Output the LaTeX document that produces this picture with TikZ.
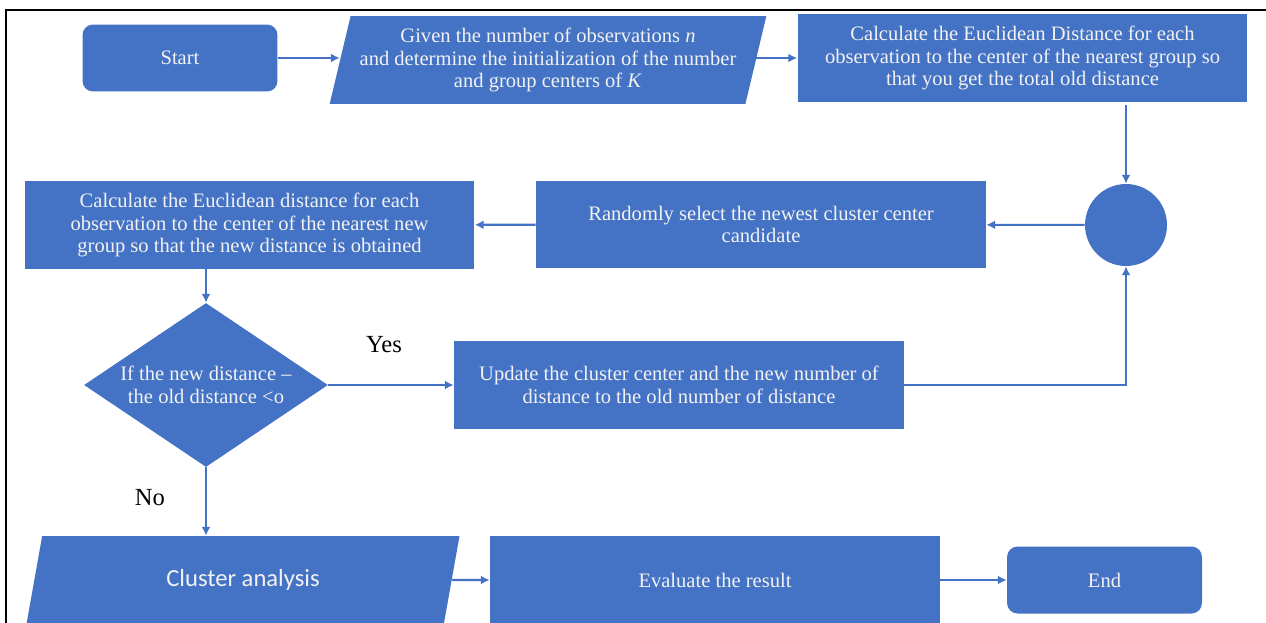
\documentclass[tikz,border=0pt]{standalone}
\usepackage{fontspec}
\setmainfont{Liberation Serif}
\newfontfamily\carlito{Carlito}
\usetikzlibrary{arrows.meta,shapes.geometric,positioning,calc}
\definecolor{flowblue}{HTML}{4472C4}
\definecolor{flowtext}{HTML}{F2F2F2}

\begin{document}
\begin{tikzpicture}[x=0.02cm,y=-0.02cm,
  every node/.style={fill=flowblue,text=flowtext,align=center,inner sep=1pt,
  font=\fontsize{11.7}{13}\selectfont},
  procbox/.style={rectangle,minimum width=9cm,minimum height=1.75cm},
  termbox/.style={rectangle,rounded corners=6pt,minimum width=3.9cm,minimum height=1.34cm},
  iobox/.style={trapezium,trapezium stretches=true,trapezium left angle=73.5,
  trapezium right angle=106.5,minimum width=8.76cm,minimum height=1.76cm},
  decision/.style={diamond,aspect=1.5,inner sep=0pt,minimum width=4.88cm,minimum height=3.28cm},
  joint/.style={circle,inner sep=0pt,minimum size=1.64cm},
  answer/.style={fill=none,text=black,font=\fontsize{14}{16}\selectfont},
  flow/.style={draw=flowblue,line width=1.2pt,-{Latex[length=5pt,width=5pt]}},
]
\useasboundingbox (0,0) rectangle (1266,622);

% the frame
\draw[line width=1.1pt] (6,640) -- (6,10) -- (1280,10);

% the first row
\node[termbox] (start) at (180,58) {Start};
\node[iobox] (given) at (548,60) {Given the number of observations \textit{n}\\
  and determine the initialization of the number\\and group centers of \textit{K}};
\node[procbox] (olddist) at (1022.5,58) {Calculate the Euclidean Distance for each\\
  observation to the center of the nearest group so\\that you get the total old distance};

% the second row
\node[joint] (join) at (1126,225) {};
\node[procbox] (select) at (761,224.5) {Randomly select the newest cluster center\\candidate};
\node[procbox] (newdist) at (249.5,225) {Calculate the Euclidean distance for each\\
  observation to the center of the nearest new\\group so that the new distance is obtained};

% the test and the update
\node[decision] (test) at (206,385) {If the new distance --\\the old distance <o};
\node[procbox] (update) at (679,385) {Update the cluster center and the new number of\\
  distance to the old number of distance};
\node[answer] (yes) at (384,345) {Yes};
\node[answer] (no) at (150,498) {No};

% the last row
\node[iobox,trapezium left angle=76,trapezium right angle=104,minimum width=8.74cm]
  (cluster) at (243,580) {\carlito\fontsize{14}{16}\selectfont Cluster analysis};
\node[procbox] (evaluate) at (715,580) {Evaluate the result};
\node[termbox] (finish) at (1104.5,580) {End};

% the connectors
\draw[flow] (start.east) -- (start.east -| given.west);
\draw[flow] (given.east |- olddist.west) -- (olddist.west);
\draw[flow] (olddist.south -| join.north) ++(0,3) -- (join.north);
\draw[flow] (join) -- (select);
\draw[flow] (select) -- (newdist);
\draw[flow] (newdist.south -| test.north) -- (test.north);
\draw[flow] (test) -- (update);
\draw[flow] (update.east) -| (join.south);
\draw[flow] (test.south) -- (test.south |- cluster.north);
\draw[flow] (cluster) -- (evaluate);
\draw[flow] (evaluate) -- (finish);
\end{tikzpicture}
\end{document}
